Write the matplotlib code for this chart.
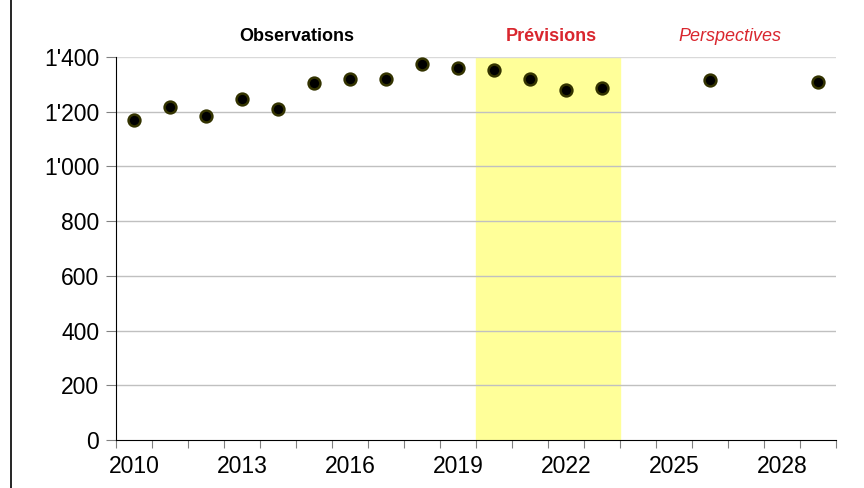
import matplotlib
matplotlib.use("Agg")
import matplotlib.pyplot as plt
from matplotlib.ticker import FixedLocator, FuncFormatter
from matplotlib.lines import Line2D

years = list(range(2010, 2030))
obs_years = [2010, 2011, 2012, 2013, 2014, 2015, 2016, 2017, 2018, 2019]
obs_vals = [1170, 1216, 1184, 1246, 1210, 1305, 1319, 1319, 1374, 1361]
prev_years = [2020, 2021, 2022, 2023]
prev_vals = [1351, 1318, 1279, 1288]
persp_years = [2026, 2029]
persp_vals = [1315, 1307]
label_years = [2010, 2013, 2016, 2019, 2022, 2025, 2028]
yticks = [0, 200, 400, 600, 800, 1000, 1200, 1400]

red = "#d9262e"
plt.rcParams['font.family'] = ['Liberation Sans', 'DejaVu Sans']

fig = plt.figure(figsize=(8.64, 4.88), dpi=100)
ax = fig.add_axes([0.1343, 0.0984, 0.8333, 0.7848])

def pos(y):
    # category axis: each year sits in the middle of its slot
    return years.index(y) + 0.5

ax.axvspan(years.index(2020), years.index(2023) + 1, color="#ffff99", zorder=0)

for v in yticks[1:]:
    ax.axhline(v, color="#d9d9d9" if v == 1400 else "#c0c0c0", lw=1, zorder=1)

all_x = [pos(y) for y in obs_years + prev_years + persp_years]
all_y = obs_vals + prev_vals + persp_vals
ax.plot(all_x, all_y, ls="none", marker="o", ms=8.5, mfc="black",
        mec="#333300", mew=1.8, zorder=3, clip_on=False)

ax.set_xlim(0, len(years))
ax.set_ylim(0, 1400)

ax.xaxis.set_major_locator(FixedLocator(range(len(years) + 1)))
ax.xaxis.set_major_formatter(FuncFormatter(lambda v, p: ""))
ax.xaxis.set_minor_locator(FixedLocator([pos(y) for y in label_years]))
ax.xaxis.set_minor_formatter(FuncFormatter(lambda v, p: str(years[int(v)])))
ax.tick_params(axis="x", which="major", length=6, color="#808080", direction="out")
ax.tick_params(axis="x", which="minor", length=0, pad=11, labelsize=16.5)

ax.set_yticks(yticks)
ax.yaxis.set_major_formatter(FuncFormatter(
    lambda v, p: f"{int(v):,}".replace(",", "'")))
ax.tick_params(axis="y", length=7, color="#808080", pad=5, labelsize=16.5)

for s in ["top", "right"]:
    ax.spines[s].set_visible(False)
ax.spines["left"].set_color("black")
ax.spines["bottom"].set_color("black")

ax.text(5.03, 1475, "Observations", ha="center", va="center", fontsize=13,
        fontweight="bold")
ax.text(12.08, 1475, "Prévisions", ha="center", va="center", fontsize=13,
        fontweight="bold", color=red)
ax.text(17.06, 1475, "Perspectives", ha="center", va="center", fontsize=13,
        style="italic", color=red)

fig.add_artist(Line2D([11 / 864, 11 / 864], [0, 1], color="black", lw=1.2,
                      transform=fig.transFigure))

fig.savefig("out.png", dpi=100)
